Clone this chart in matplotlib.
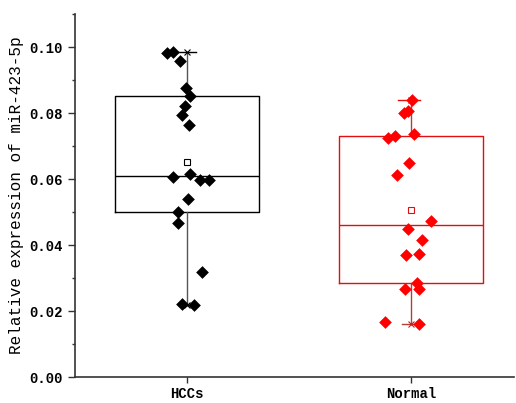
import matplotlib
matplotlib.use('Agg')
import matplotlib.pyplot as plt
from matplotlib.ticker import MultipleLocator

# group labels
groups = ['HCCs', 'Normal']

# individual sample values
hcc_values = [0.0982, 0.0985, 0.0958, 0.0876, 0.0852, 0.0821, 0.0794, 0.0763, 0.0606,
              0.0615, 0.0597, 0.0597, 0.0539, 0.0500, 0.0467, 0.0318, 0.0221, 0.0218]
normal_values = [0.0839, 0.0800, 0.0806, 0.0724, 0.0730, 0.0736, 0.0648, 0.0612, 0.0473,
                 0.0448, 0.0415, 0.0370, 0.0373, 0.0285, 0.0267, 0.0267, 0.0167, 0.0161]

# horizontal scatter of the points (category units)
hcc_jitter = [-0.089, -0.063, -0.031, -0.004, 0.013, -0.009, -0.022, 0.009, -0.063,
              0.013, 0.058, 0.098, 0.004, -0.040, -0.040, 0.067, -0.022, 0.031]
normal_jitter = [0.004, -0.031, -0.013, -0.103, -0.071, 0.013, -0.009, -0.063, 0.089,
                 -0.013, 0.049, -0.022, 0.036, 0.027, -0.027, 0.036, -0.116, 0.036]

# box statistics as drawn
q1 = [0.0500, 0.0285]
median = [0.0609, 0.0461]
q3 = [0.0852, 0.0730]
mean = [0.0652, 0.0506]
whisker_low = [0.0218, 0.0161]
whisker_high = [0.0985, 0.0839]

fig = plt.figure(figsize=(5.16, 4.03), dpi=100)
ax = fig.add_axes([0.1453, 0.0645, 0.851, 0.9007])

box_colors = ['black', '#e01010']
whisker_colors = ['#555555', '#b04040']
point_colors = ['black', '#ff0000']

stats = []
for i in range(2):
    stats.append({'med': median[i], 'q1': q1[i], 'q3': q3[i], 'mean': mean[i],
                  'whislo': whisker_low[i], 'whishi': whisker_high[i], 'fliers': []})

for i in range(2):
    ax.bxp([stats[i]], positions=[i + 1], widths=0.64, showmeans=False, showcaps=False,
           showfliers=False,
           boxprops=dict(color=box_colors[i], linewidth=1.0),
           medianprops=dict(color=box_colors[i], linewidth=1.0),
           whiskerprops=dict(color=whisker_colors[i], linewidth=1.0))
    # short cap line and x marks at the whisker ends
    ax.plot([i + 1 - 0.06, i + 1 + 0.04], [whisker_high[i]] * 2, color=box_colors[i], lw=1.0)
    ax.plot([i + 1 - 0.04, i + 1 + 0.02], [whisker_low[i]] * 2, color=whisker_colors[i], lw=1.0)
    ax.plot([i + 1, i + 1], [whisker_high[i], whisker_low[i]], ls='none', marker='x',
            ms=4, mew=0.8, color=box_colors[i])
    ax.plot(i + 1, mean[i], marker='s', ms=4, mfc='white', mec=box_colors[i], mew=0.8)

for i, (vals, jit) in enumerate([(hcc_values, hcc_jitter), (normal_values, normal_jitter)]):
    xs = [i + 1 + j for j in jit]
    ax.scatter(xs, vals, marker='D', s=42, color=point_colors[i], zorder=3, linewidths=0)

ax.set_xlim(0.5, 2.46)
ax.set_ylim(0, 0.11)
ax.set_xticks([1, 2])
ax.set_xticklabels(groups)
ax.yaxis.set_major_locator(MultipleLocator(0.02))
ax.yaxis.set_minor_locator(MultipleLocator(0.01))
ax.yaxis.set_major_formatter(matplotlib.ticker.FormatStrFormatter('%.2f'))

for side in ['top', 'right']:
    ax.spines[side].set_visible(False)
for side in ['left', 'bottom']:
    ax.spines[side].set_color('#333333')
    ax.spines[side].set_linewidth(1.2)

ax.tick_params(axis='y', which='major', length=5, width=1.0, color='#333333')
ax.tick_params(axis='y', which='minor', length=2.5, width=1.0, color='#333333')
ax.tick_params(axis='x', length=4, width=1.0, color='#333333')

for lbl in ax.get_xticklabels() + ax.get_yticklabels():
    lbl.set_fontfamily('Liberation Mono')
    lbl.set_fontweight('bold')
    lbl.set_fontsize(10)

ax.set_ylabel('Relative expression of miR-423-5p', fontfamily='Liberation Mono',
              fontsize=11.5, labelpad=4)

fig.savefig('out.png', dpi=100)
